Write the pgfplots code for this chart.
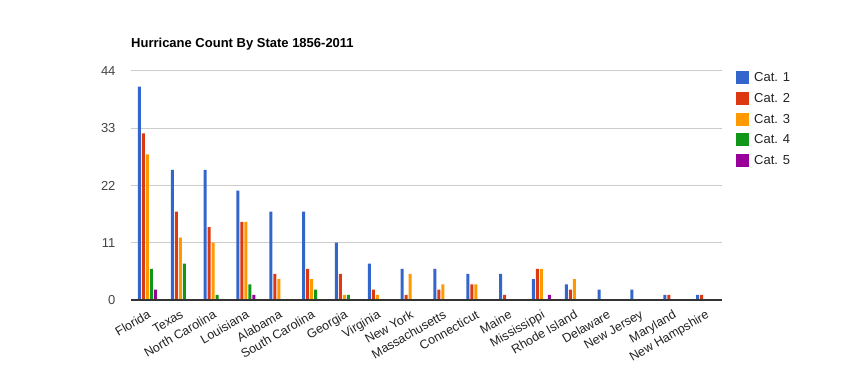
\documentclass[border=0pt]{standalone}
\usepackage{pgfplots}
\pgfplotsset{compat=1.18}
\usepackage{fontspec}
\setmainfont{Liberation Sans}
\definecolor{c1}{HTML}{3366CC}
\definecolor{c2}{HTML}{DC3912}
\definecolor{c3}{HTML}{FF9900}
\definecolor{c4}{HTML}{109618}
\definecolor{c5}{HTML}{990099}
\definecolor{gridc}{HTML}{CCCCCC}
\definecolor{axc}{HTML}{333333}
\definecolor{txt}{HTML}{222222}
\definecolor{tickc}{HTML}{444444}
\begin{document}
\begin{tikzpicture}[x=1pt,y=1pt]
\path[use as bounding box] (0,0) rectangle (854,371);
\begin{axis}[
  at={(131pt,71pt)}, anchor=south west,
  scale only axis, width=591pt, height=229pt,
  xmin=-0.5, xmax=17.5, ymin=0, ymax=44,
  ytick={0,11,22,33,44},
  xtick={0,...,17},
  xticklabels={Florida,Texas,{North Carolina},Louisiana,Alabama,{South Carolina},Georgia,Virginia,{New York},Massachusetts,Connecticut,Maine,Mississippi,{Rhode Island},Delaware,{New Jersey},Maryland,{New Hampshire}},
  /pgf/number format/assume math mode=true,
  ymajorgrids, grid style={gridc, line width=1pt},
  major tick length=0pt,
  axis line style={draw=none},
  axis x line*=bottom, axis y line*=left,
  yticklabel style={font=\fontsize{13}{15}\selectfont, text=tickc, anchor=east, xshift=-12pt},
  xticklabel style={font=\fontsize{12.5}{15}\selectfont, text=txt, yshift=-8pt, rotate=30, anchor=north east, inner sep=1pt},
  title={Hurricane Count By State 1856-2011},
  title style={at={(0,1)}, anchor=base west, yshift=17pt, inner sep=0pt, font=\bfseries\fontsize{13}{15}\selectfont},
  ybar, bar width=3pt,
  every axis plot/.append style={draw=none},
  legend style={at={(1.0237,1)}, anchor=north west, draw=none, fill=none,
    font=\fontsize{13}{15}\selectfont, text=txt, row sep=7.7pt, inner sep=0pt,
    nodes={inner sep=0pt, anchor=west, text height=10pt, text depth=2pt}},
  legend cell align=left,
  legend image code/.code={\fill[#1] (0pt,-6.5pt) rectangle (13pt,6.5pt); \path (18pt,0pt);},
  clip=false,
]
\addplot[fill=c1, bar shift=-8pt] coordinates {(0,41) (1,25) (2,25) (3,21) (4,17) (5,17) (6,11) (7,7) (8,6) (9,6) (10,5) (11,5) (12,4) (13,3) (14,2) (15,2) (16,1) (17,1)};
\addplot[fill=c2, bar shift=-4pt] coordinates {(0,32) (1,17) (2,14) (3,15) (4,5) (5,6) (6,5) (7,2) (8,1) (9,2) (10,3) (11,1) (12,6) (13,2) (14,0) (15,0) (16,1) (17,1)};
\addplot[fill=c3, bar shift=0pt] coordinates {(0,28) (1,12) (2,11) (3,15) (4,4) (5,4) (6,1) (7,1) (8,5) (9,3) (10,3) (11,0) (12,6) (13,4) (14,0) (15,0) (16,0) (17,0)};
\addplot[fill=c4, bar shift=4pt] coordinates {(0,6) (1,7) (2,1) (3,3) (4,0) (5,2) (6,1) (7,0) (8,0) (9,0) (10,0) (11,0) (12,0) (13,0) (14,0) (15,0) (16,0) (17,0)};
\addplot[fill=c5, bar shift=8pt] coordinates {(0,2) (1,0) (2,0) (3,1) (4,0) (5,0) (6,0) (7,0) (8,0) (9,0) (10,0) (11,0) (12,1) (13,0) (14,0) (15,0) (16,0) (17,0)};
\legend{Cat. 1,Cat. 2,Cat. 3,Cat. 4,Cat. 5}
\draw[axc, line width=1.2pt] (rel axis cs:0,0) -- (rel axis cs:1,0);
\end{axis}
\end{tikzpicture}
\end{document}
